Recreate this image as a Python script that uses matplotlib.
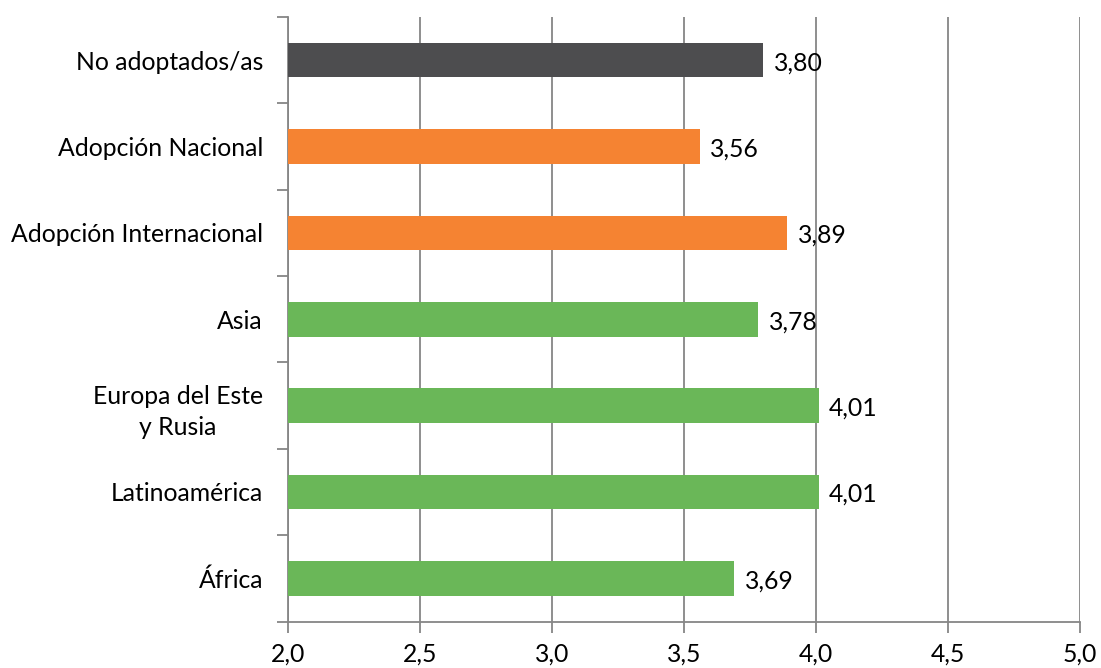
import matplotlib
matplotlib.use("Agg")
import matplotlib.pyplot as plt
import numpy as np

categories = ["No adoptados/as", "Adopción Nacional", "Adopción Internacional", "Asia",
              "Europa del Este\ny Rusia", "Latinoamérica", "África"]
values = [3.80, 3.56, 3.89, 3.78, 4.01, 4.01, 3.69]
colors = ["#4d4d4f", "#f58332", "#f58332", "#6ab758", "#6ab758", "#6ab758", "#6ab758"]
xticks = [2.0, 2.5, 3.0, 3.5, 4.0, 4.5, 5.0]

FS = 17.8
plt.rcParams['font.family'] = ['Lato', 'DejaVu Sans']
fig = plt.figure(figsize=(11.01, 6.68), dpi=100)
ax = fig.add_axes([288/1101, 1-621.5/668, (1080-288)/1101, (621.5-17)/668])

y = np.arange(len(categories))
ax.barh(y, [v - 2.0 for v in values], left=2.0, height=0.4, color=colors, zorder=3)
for yi, v in zip(y, values):
    ax.text(v + 0.04, yi + 0.03, f"{v:.2f}".replace(".", ","), va="center", ha="left",
            fontsize=FS, color="black")

ax.set_xlim(2.0, 5.0)
ax.set_ylim(len(categories) - 0.5, -0.5)
ax.set_xticks(xticks)
ax.set_xticklabels([f"{t:.1f}".replace(".", ",") for t in xticks], fontsize=FS)
ax.set_yticks(y)
ax.set_yticklabels(categories, fontsize=FS)
for lab in ax.get_yticklabels():
    lab.set_multialignment("center")
    lab.set_linespacing(1.45)
ax.set_yticks(np.arange(-0.5, len(categories), 1), minor=True)
ax.tick_params(axis="y", which="major", length=0, pad=18)
ax.tick_params(axis="y", which="minor", length=8, width=1.3, color="#868686", direction="out")
ax.tick_params(axis="x", length=8, width=1.3, color="#868686", direction="out", pad=7)
ax.grid(axis="x", color="#868686", linewidth=1.3, zorder=0)
for s in ["top", "right"]:
    ax.spines[s].set_visible(False)
for s in ["left", "bottom"]:
    ax.spines[s].set_color("#868686")
    ax.spines[s].set_linewidth(1.3)

fig.savefig("out.png", dpi=100)
